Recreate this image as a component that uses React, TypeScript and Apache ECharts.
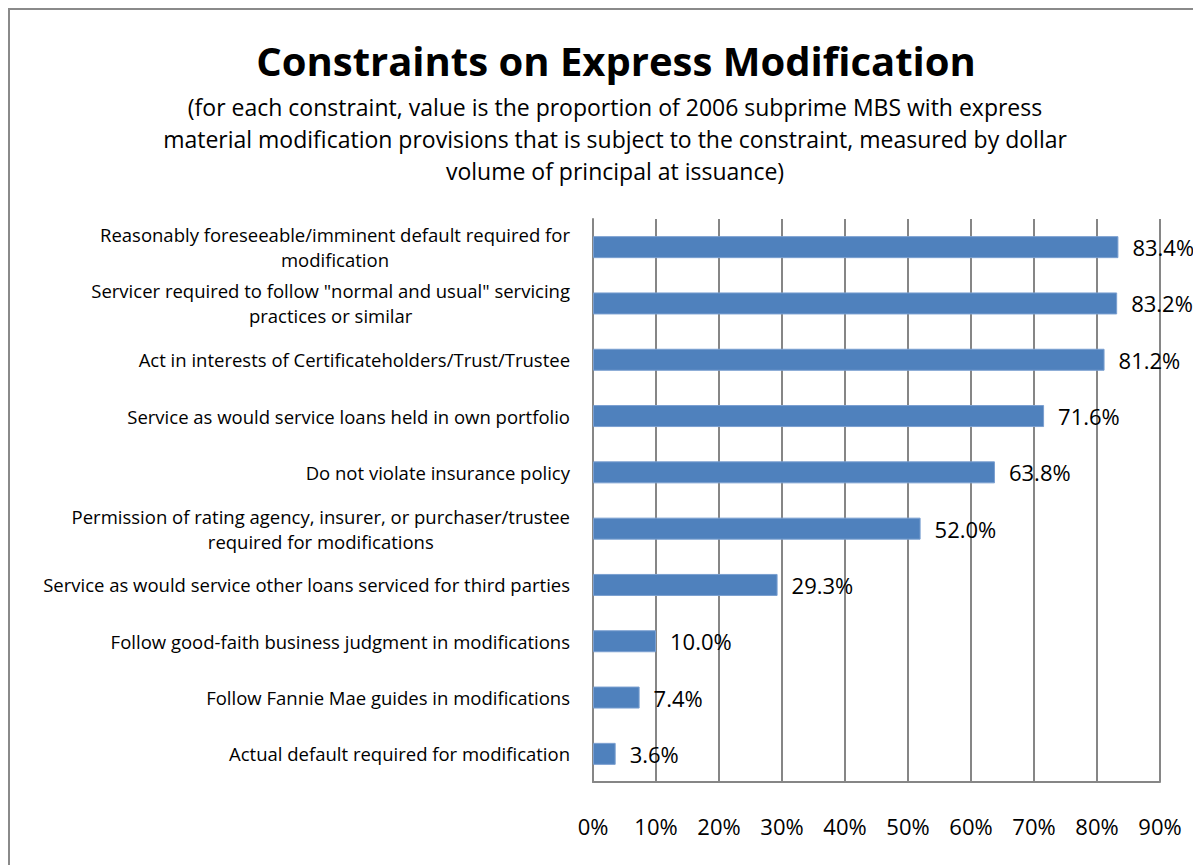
import React, { useEffect, useRef } from "react";
import * as echarts from "echarts";

const categories: string[] = [
  "Reasonably foreseeable/imminent default required for\nmodification",
  "Servicer required to follow \"normal and usual\" servicing\npractices or similar",
  "Act in interests of Certificateholders/Trust/Trustee",
  "Service as would service loans held in own portfolio",
  "Do not violate insurance policy",
  "Permission of rating agency, insurer, or purchaser/trustee\nrequired for modifications",
  "Service as would service other loans serviced for third parties",
  "Follow good-faith business judgment in modifications",
  "Follow Fannie Mae guides in modifications",
  "Actual default required for modification",
];

const values: number[] = [83.4, 83.2, 81.2, 71.6, 63.8, 52.0, 29.3, 10.0, 7.4, 3.6];

const titleText = "Constraints on Express Modification";
const subtitleText =
  "(for each constraint, value is the proportion of 2006 subprime MBS with express\nmaterial modification provisions that is subject to the constraint, measured by dollar\nvolume of principal at issuance)";

const FONT = "'Open Sans', sans-serif";

export default function App() {
  const ref = useRef<HTMLDivElement>(null);
  useEffect(() => {
    if (!ref.current) return;
    const chart = echarts.init(ref.current, undefined, { renderer: "svg" });
    chart.setOption({
      animation: false,
      backgroundColor: "#ffffff",
      textStyle: { fontFamily: FONT },
      title: [
        {
          text: titleText,
          left: 603,
          top: 27,
          textAlign: "center",
          textStyle: { fontFamily: FONT, fontSize: 40, fontWeight: "bold", color: "#000" },
        },
        {
          text: subtitleText,
          left: 602,
          top: 78,
          textAlign: "center",
          textStyle: {
            fontFamily: FONT,
            fontSize: 23,
            fontWeight: "normal",
            color: "#000",
            lineHeight: 32,
            align: "center",
          },
        },
      ],
      graphic: [
        { type: "line", shape: { x1: 1, y1: 0, x2: 1, y2: 900 }, style: { stroke: "#8a8a8a", lineWidth: 2 } },
        { type: "line", shape: { x1: 0, y1: 1, x2: 1300, y2: 1 }, style: { stroke: "#8a8a8a", lineWidth: 2 } },
      ],
      grid: { left: 585, right: 41, top: 211, bottom: 83, containLabel: false },
      xAxis: {
        type: "value",
        min: 0,
        max: 90,
        interval: 10,
        axisLine: { show: true, lineStyle: { color: "#868686", width: 2 } },
        axisTick: { show: false },
        splitLine: { show: true, lineStyle: { color: "#868686", width: 2 } },
        axisLabel: {
          formatter: "{value}%",
          fontSize: 22,
          color: "#000",
          margin: 33,
          fontFamily: FONT,
        },
      },
      yAxis: {
        type: "category",
        inverse: true,
        data: categories,
        axisLine: { show: true, lineStyle: { color: "#868686", width: 2 } },
        axisTick: { show: false },
        splitLine: { show: false },
        axisLabel: {
          margin: 23,
          formatter: (v: string) => "{a|" + v + "}",
          rich: {
            a: { fontSize: 18.5, color: "#000", lineHeight: 25, align: "center", fontFamily: FONT },
          },
        },
      },
      series: [
        {
          type: "bar",
          data: values,
          barWidth: 22,
          itemStyle: { color: "#4f81bd", borderColor: "#7a9fd0", borderWidth: 1 },
          label: {
            show: true,
            position: "right",
            distance: 14,
            fontSize: 22,
            color: "#000",
            fontFamily: FONT,
            formatter: (p: any) => p.value.toFixed(1) + "%",
          },
        },
      ],
    });
    return () => chart.dispose();
  }, []);
  return <div ref={ref} style={{ width: 1193, height: 857 }} />;
}
